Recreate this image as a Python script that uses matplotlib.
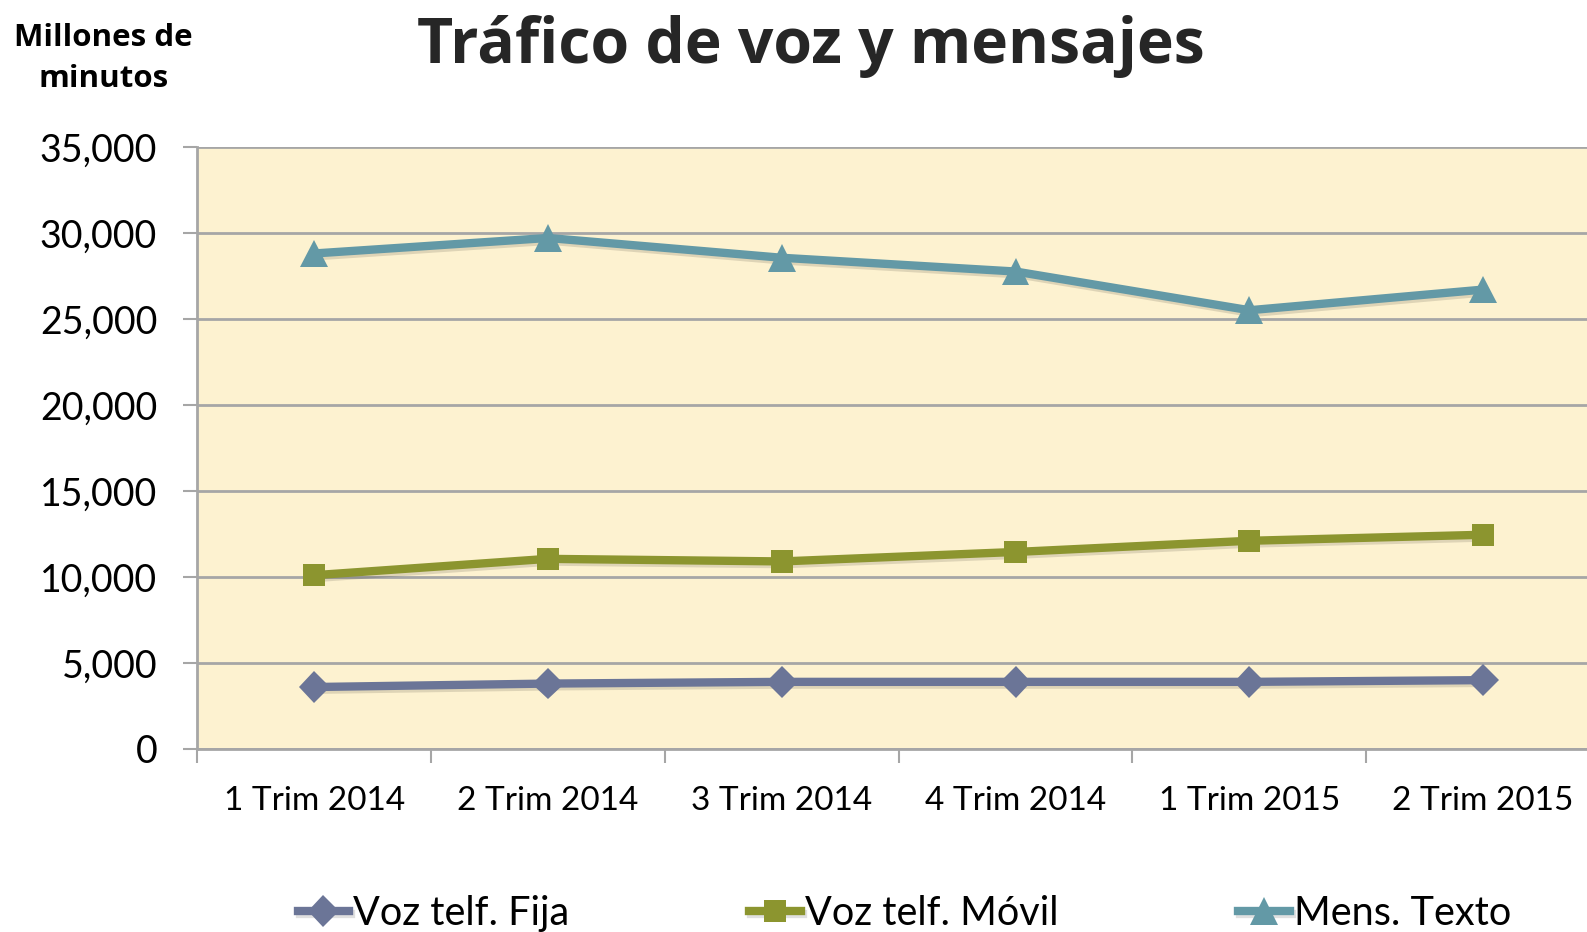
import matplotlib
matplotlib.use("Agg")
import matplotlib.pyplot as plt
import matplotlib.patheffects as pe
import numpy as np

# ----------------------------------------------------------
# datos
# ----------------------------------------------------------
trimestres = ["1 Trim 2014", "2 Trim 2014", "3 Trim 2014",
              "4 Trim 2014", "1 Trim 2015", "2 Trim 2015"]

voz_fija = [3600, 3800, 3900, 3900, 3900, 4000]
voz_movil = [10100, 11050, 10900, 11450, 12100, 12450]
mens_texto = [28800, 29700, 28550, 27750, 25500, 26700]

series = [
    ("Voz telf. Fija", voz_fija, "#6b7597", "D", 16),
    ("Voz telf. Móvil", voz_movil, "#8c952f", "s", 16),
    ("Mens. Texto", mens_texto, "#6399a6", "^", 20),
]

plt.rcParams["font.family"] = ["Lato", "DejaVu Sans"]

fig = plt.figure(figsize=(15.87, 9.32), dpi=100)
ax = fig.add_axes([0.1244, 0.1964, 0.8838, 0.6461])
ax.set_facecolor("#fdf2d0")

x = np.arange(len(trimestres))
sombra = [pe.SimpleLineShadow(offset=(1.5, -2), alpha=0.12), pe.Normal()]

for nombre, valores, color, marca, tam in series:
    ax.plot(x, valores, color=color, linewidth=6, marker=marca,
            markersize=tam, markeredgewidth=0, label=nombre,
            path_effects=sombra, zorder=3, clip_on=False)

# ejes
ax.set_xlim(-0.5, len(trimestres) - 0.5)
ax.set_ylim(0, 35000)
ax.set_yticks(np.arange(0, 35001, 5000))
ax.set_yticklabels([f"{v:,}" for v in range(0, 35001, 5000)], fontsize=27)
ax.yaxis.grid(True, color="#a6a6a6", linewidth=2)
ax.set_axisbelow(True)

ax.set_xticks(x)
ax.set_xticklabels(trimestres, fontsize=24)
ax.set_xticks(np.arange(-0.5, len(trimestres), 1.0), minor=True)
ax.tick_params(axis="x", which="major", length=0, pad=27)
ax.tick_params(axis="x", which="minor", length=10, width=1.5, color="#a6a6a6")
ax.tick_params(axis="y", length=10, width=1.5, color="#a6a6a6", pad=19)

for lado in ["top", "right"]:
    ax.spines[lado].set_visible(False)
ax.spines["left"].set_color("#a6a6a6")
ax.spines["left"].set_linewidth(2)
ax.spines["bottom"].set_color("#a6a6a6")
ax.spines["bottom"].set_linewidth(2)

# titulos
fig.text(0.511, 0.95, "Tráfico de voz y mensajes", ha="center", va="center",
         fontsize=45, fontweight="bold", color="#262626",
         family=["Open Sans", "DejaVu Sans"])
fig.text(0.065, 0.937, "Millones de\nminutos", ha="center", va="center",
         fontsize=22.5, fontweight="bold", linespacing=1.5,
         family=["Open Sans", "DejaVu Sans"])

# leyenda
fig.legend(loc="center left", bbox_to_anchor=(0.1775, 0.02), ncol=3,
           frameon=False, fontsize=28.5, handlelength=1.3, handletextpad=0.1,
           columnspacing=4.55, borderaxespad=0)

plt.savefig("out.png", dpi=100)
plt.close(fig)
